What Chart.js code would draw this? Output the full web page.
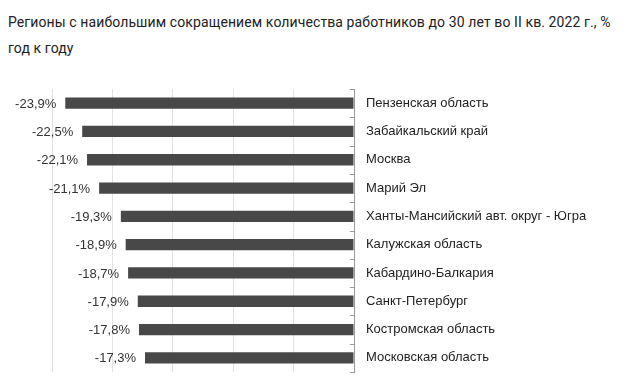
<!DOCTYPE html>
<html>
<head>
<meta charset="utf-8">
<script src="https://cdn.jsdelivr.net/npm/chart.js@4"></script>
<style>
  html, body { margin: 0; padding: 0; background: #fff; }
  #wrap { position: relative; width: 639px; height: 382px; }
  #title {
    position: absolute; left: 8px; top: 9px;
    font-family: Roboto, "Noto Sans", sans-serif; font-size: 14px;
    letter-spacing: 0.1px; line-height: 26px; color: #222;
  }
  canvas { position: absolute; left: 0; top: 0; }
</style>
</head>
<body>
<div id="wrap">
  <div id="title">Регионы с наибольшим сокращением количества работников до 30 лет во II кв. 2022 г., %<br>год к году</div>
  <canvas id="chart" width="639" height="382"></canvas>
</div>
<script>
const regions = [
    'Пензенская область',
    'Забайкальский край',
    'Москва',
    'Марий Эл',
    'Ханты-Мансийский авт. округ - Югра',
    'Калужская область',
    'Кабардино-Балкария',
    'Санкт-Петербург',
    'Костромская область',
    'Московская область'
];
const changes = [-23.9, -22.5, -22.1, -21.1, -19.3, -18.9, -18.7, -17.9, -17.8, -17.3];

// value labels at the left end of each bar
const valueLabels = {
    id: 'valueLabels',
    afterDatasetsDraw(chart) {
        const ctx = chart.ctx;
        const meta = chart.getDatasetMeta(0);
        ctx.save();
        ctx.font = '13px "Liberation Sans", Arial, sans-serif';
        ctx.fillStyle = '#333';
        ctx.textAlign = 'right';
        ctx.textBaseline = 'middle';
        meta.data.forEach((bar, i) => {
            const txt = changes[i].toFixed(1).replace('.', ',') + '%';
            ctx.fillText(txt, bar.x - 9, bar.y + 1);
        });
        ctx.restore();
    }
};

// small tick marks on the inner side of the category axis
const innerTicks = {
    id: 'innerTicks',
    afterDraw(chart) {
        const ctx = chart.ctx;
        const y = chart.scales.y;
        const x0 = chart.scales.x.getPixelForValue(0);
        ctx.save();
        ctx.strokeStyle = '#999';
        ctx.lineWidth = 1;
        for (let i = 0; i <= regions.length; i++) {
            let py;
            if (i === 0) py = y.top;
            else if (i === regions.length) py = y.bottom;
            else py = (y.getPixelForValue(i - 1) + y.getPixelForValue(i)) / 2;
            py = Math.round(py) + 0.5;
            ctx.beginPath();
            ctx.moveTo(x0 - 4, py);
            ctx.lineTo(x0, py);
            ctx.stroke();
        }
        ctx.restore();
    }
};

new Chart(document.getElementById('chart').getContext('2d'), {
    type: 'bar',
    data: {
        labels: regions,
        datasets: [{
            data: changes,
            backgroundColor: '#484848',
            barPercentage: 0.4,
            categoryPercentage: 1
        }]
    },
    options: {
        indexAxis: 'y',
        responsive: false,
        animation: false,
        layout: { padding: { left: 52, top: 89, bottom: 10, right: 0 } },
        plugins: {
            legend: { display: false },
            tooltip: { enabled: false }
        },
        scales: {
            x: {
                min: -25,
                max: 0,
                ticks: { display: false, stepSize: 5 },
                grid: { color: '#e2e2e2', drawTicks: false },
                border: { display: false },
                afterFit(scale) { scale.height = 0; scale.paddingLeft = 0; scale.paddingRight = 0; }
            },
            y: {
                position: 'right',
                grid: { display: false, drawTicks: false },
                border: { display: true, color: '#999' },
                ticks: {
                    padding: 12,
                    color: '#222',
                    font: { family: '"Liberation Sans", Arial, sans-serif', size: 13 }
                },
                afterFit(scale) {
                    scale.width = 285;
                    scale.paddingTop = 0;
                    scale.paddingBottom = 0;
                }
            }
        }
    },
    plugins: [valueLabels, innerTicks]
});
</script>
</body>
</html>
